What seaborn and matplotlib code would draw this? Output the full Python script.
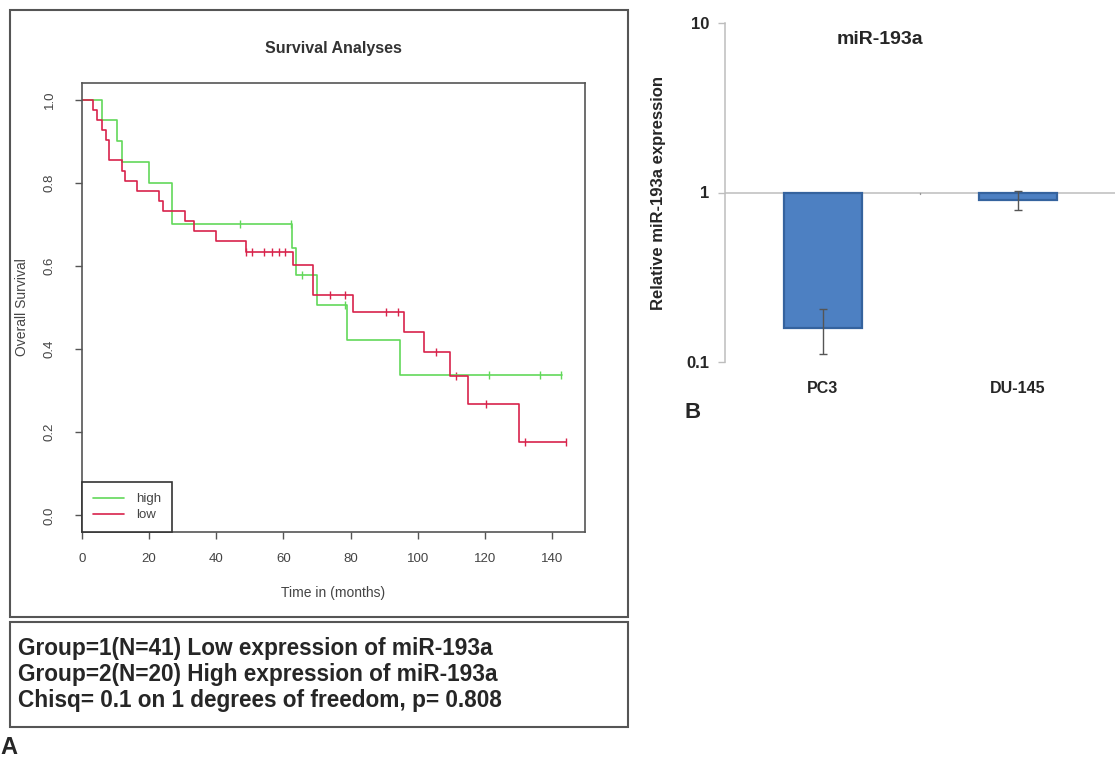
import matplotlib
matplotlib.use("Agg")
import matplotlib.pyplot as plt
import seaborn as sns
from matplotlib.patches import Rectangle
from matplotlib.lines import Line2D
from matplotlib.ticker import NullLocator, FixedLocator

# ---------------- data ----------------
# Kaplan-Meier steps, low miR-193a expression (Group 1)
low_times = [0, 3.4, 4.6, 6.0, 7.2, 8.0, 12.0, 12.7, 16.5, 23.0, 24.0, 30.7, 33.4,
             39.8, 48.8, 62.8, 68.7, 80.8, 95.8, 101.9, 109.6, 115.0, 130.0, 144.0]
low_surv = [1.0, 0.976, 0.951, 0.927, 0.902, 0.854, 0.829, 0.805, 0.780, 0.756, 0.732,
            0.707, 0.683, 0.659, 0.634, 0.603, 0.530, 0.490, 0.442, 0.393, 0.336, 0.268,
            0.177, 0.177]
low_cens_t = [48.8, 50.6, 54.2, 56.6, 58.7, 60.5, 74.0, 78.4, 90.5, 94.2, 105.5, 111.3,
              120.4, 131.8, 144.0]
low_cens_s = [0.634, 0.634, 0.634, 0.634, 0.634, 0.634, 0.530, 0.530, 0.490, 0.490,
              0.393, 0.336, 0.268, 0.177, 0.177]

# Kaplan-Meier steps, high miR-193a expression (Group 2)
high_times = [0, 5.9, 10.5, 12.0, 20.1, 26.9, 62.5, 63.8, 70.0, 79.0, 94.7, 143.0]
high_surv = [1.0, 0.95, 0.90, 0.85, 0.80, 0.70, 0.642, 0.578, 0.506, 0.422, 0.337, 0.337]
high_cens_t = [47.0, 62.2, 65.5, 78.2, 121.2, 136.4, 142.8]
high_cens_s = [0.70, 0.70, 0.578, 0.506, 0.337, 0.337, 0.337]

x_ticks = [0, 20, 40, 60, 80, 100, 120, 140]
y_ticks = [0.0, 0.2, 0.4, 0.6, 0.8, 1.0]
y_tick_labels = ["0.0", "0.2", "0.4", "0.6", "0.8", "1.0"]

# Relative expression bar chart
cell_lines = ["PC3", "DU-145"]
rel_expr = [0.158, 0.905]
rel_err = [0.047, 0.12]
log_ticks = [0.1, 1, 10]
log_tick_labels = ["0.1", "1", "10"]

info_lines = ["Group=1(N=41) Low expression of miR-193a",
              "Group=2(N=20) High expression of miR-193a",
              "Chisq= 0.1 on 1 degrees of freedom, p= 0.808"]

# ---------------- style ----------------
sns.set_theme(style="white")
plt.rcParams['font.family'] = ['Liberation Sans', 'DejaVu Sans']

W, H = 1115, 760
fig = plt.figure(figsize=(W / 100, H / 100), dpi=100)
fig.patch.set_facecolor("white")

def fx(px):
    return px / W

def fy(py):
    return 1 - py / H

GREEN = "#62d85a"
RED = "#d8234b"
GREY_TXT = "#444444"

# ---------------- panel A ----------------
# outer frames
fig.add_artist(Rectangle((fx(10), fy(617)), fx(628) - fx(10), fy(10) - fy(617),
                         transform=fig.transFigure, fill=False, edgecolor="#555555", lw=1.5))
fig.add_artist(Rectangle((fx(10), fy(727)), fx(628) - fx(10), fy(622) - fy(727),
                         transform=fig.transFigure, fill=False, edgecolor="#555555", lw=1.5))

ax = fig.add_axes([fx(82), fy(532), fx(585) - fx(82), fy(83) - fy(532)])
sns.lineplot(x=high_times, y=high_surv, drawstyle="steps-post", estimator=None, sort=False,
             color=GREEN, lw=1.2, ax=ax)
sns.lineplot(x=low_times, y=low_surv, drawstyle="steps-post", estimator=None, sort=False,
             color=RED, lw=1.2, ax=ax)
sns.scatterplot(x=high_cens_t, y=high_cens_s, marker="|", s=40, color=GREEN, linewidth=1.0, ax=ax)
sns.scatterplot(x=low_cens_t, y=low_cens_s, marker="|", s=40, color=RED, linewidth=1.0, ax=ax)

ax.set_xlim(0, 149.8)
ax.set_ylim(-0.04, 1.04)
ax.xaxis.set_major_locator(FixedLocator(x_ticks))
ax.set_xticklabels([str(t) for t in x_ticks])
ax.yaxis.set_major_locator(FixedLocator(y_ticks))
ax.set_yticklabels(y_tick_labels, rotation=90, va="center")
ax.tick_params(axis="both", direction="out", length=5, width=1, color="#555555",
               labelsize=9.5, labelcolor=GREY_TXT, bottom=True, left=True)
ax.tick_params(axis="y", pad=14)
ax.tick_params(axis="x", pad=10)
for sp in ax.spines.values():
    sp.set_visible(True)
    sp.set_color("#555555")
    sp.set_linewidth(1.2)

ax.set_xlabel("Time in (months)", fontsize=10, color=GREY_TXT)
ax.xaxis.set_label_coords(0.5, -(586 - 532) / 449)
ax.set_ylabel("Overall Survival", fontsize=10, color=GREY_TXT)
ax.yaxis.set_label_coords(-(82 - 29) / 503, 0.5)
ax.text(0.5, 1 + (83 - 48) / 449, "Survival Analyses", transform=ax.transAxes,
        ha="center", va="center", fontsize=11.5, fontweight="bold", color="#333333")

handles = [Line2D([], [], color=GREEN, lw=1.2), Line2D([], [], color=RED, lw=1.2)]
leg = ax.legend(handles, ["high", "low"], loc="lower left", borderaxespad=0, fontsize=9.5,
                frameon=True, fancybox=False, edgecolor="#333333", framealpha=1,
                handlelength=2.4, handletextpad=0.9, borderpad=0.8, labelspacing=0.3)
for t in leg.get_texts():
    t.set_color(GREY_TXT)
leg.get_frame().set_linewidth(1.2)

for i, line in enumerate(info_lines):
    fig.text(fx(18), fy(648 + 26.5 * i), line, ha="left", va="center", fontsize=16.3,
             fontweight="bold", color="#262626")

fig.text(fx(9), fy(748), "A", ha="center", va="center", fontsize=17, fontweight="bold")

# ---------------- panel B ----------------
axb = fig.add_axes([fx(725), fy(362), fx(1115) - fx(725), fy(23) - fy(362)])
bar_heights = [v - 1 for v in rel_expr]
sns.barplot(x=cell_lines, y=bar_heights, bottom=1, width=0.4, color="#4d80c2", saturation=1,
            edgecolor="#35639e", linewidth=1.6, errorbar=None, ax=axb)
axb.set_yscale("log")
axb.set_ylim(0.1, 10)
axb.set_xlim(-0.5, 1.5)
axb.errorbar(x=list(range(len(cell_lines))), y=rel_expr, yerr=rel_err, fmt="none",
             ecolor="#555555", elinewidth=1.0, capsize=3, capthick=1.0)
axb.axhline(1, color="#bdbdbd", lw=1.1, zorder=0.5)
axb.plot([0.5, 0.5], [1, 0.985], color="#999999", lw=1)

axb.yaxis.set_major_locator(FixedLocator(log_ticks))
axb.yaxis.set_minor_locator(NullLocator())
axb.set_yticklabels(log_tick_labels)
axb.tick_params(axis="y", direction="out", length=5, width=1, color="#bdbdbd", left=True,
                labelsize=12, pad=6)
axb.tick_params(axis="x", length=0, labelsize=11.5, pad=14)
for lab in axb.get_yticklabels() + axb.get_xticklabels():
    lab.set_fontweight("bold")
for s in ["top", "right", "bottom"]:
    axb.spines[s].set_visible(False)
axb.spines["left"].set_color("#bdbdbd")
axb.spines["left"].set_linewidth(1.1)
axb.set_xlabel("")
axb.set_ylabel("Relative miR-193a expression", fontsize=12, fontweight="bold")
axb.yaxis.set_label_coords(-(725 - 666) / 390, 0.5)
axb.text((880 - 725) / 390, (362 - 40) / 339, "miR-193a", transform=axb.transAxes,
         ha="center", va="center", fontsize=14, fontweight="bold")

fig.text(fx(693), fy(413), "B", ha="center", va="center", fontsize=16, fontweight="bold")

fig.savefig("out.png", dpi=100)
